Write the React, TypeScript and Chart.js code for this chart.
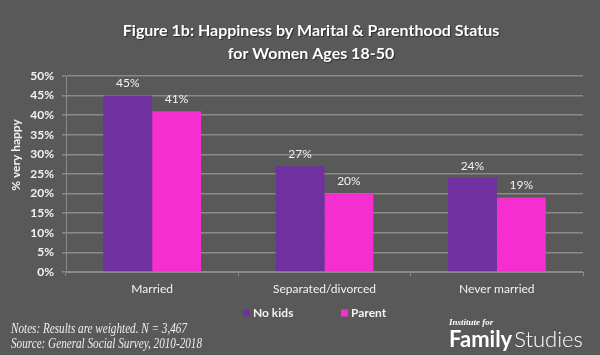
import React, { useEffect, useRef } from "react";
import { Chart, registerables } from "chart.js";

Chart.register(...registerables);

const categories = ["Married", "Separated/divorced", "Never married"];
const noKids = [45, 27, 24];
const parent = [41, 20, 19];
const seriesNames = ["No kids", "Parent"];
const yTicks = [0, 5, 10, 15, 20, 25, 30, 35, 40, 45, 50];
const titleLines = ["Figure 1b: Happiness by Marital & Parenthood Status", "for Women Ages 18-50"];
const yTitle = "% very happy";
const notes = ["Notes: Results are weighted. N = 3,467", "Source: General Social Survey, 2010-2018"];

const BG = "#595959";
const PURPLE = "#7030A0";
const PINK = "#F52ED0";
const GRID = "#8a8a8a";
const TEXT = "#f2f2f2";
const SANS = "Lato, 'Open Sans', sans-serif";

const decorPlugin = {
  id: "decor",
  beforeDraw(chart: any) {
    const { ctx, width, height } = chart;
    ctx.save();
    ctx.fillStyle = BG;
    ctx.fillRect(0, 0, width, height);
    ctx.restore();
  },
  afterDraw(chart: any) {
    const { ctx } = chart;
    ctx.save();
    // title
    ctx.fillStyle = "#ffffff";
    ctx.textAlign = "center";
    ctx.textBaseline = "middle";
    ctx.font = `bold 16px ${SANS}`;
    ctx.shadowColor = "rgba(0,0,0,0.5)";
    ctx.shadowOffsetX = 1;
    ctx.shadowOffsetY = 1;
    ctx.shadowBlur = 1;
    ctx.fillText(titleLines[0], 311, 31);
    ctx.fillText(titleLines[1], 311, 54);
    ctx.shadowColor = "transparent";

    // y title
    ctx.save();
    ctx.translate(16, 155);
    ctx.rotate(-Math.PI / 2);
    ctx.font = `bold 12px ${SANS}`;
    ctx.fillStyle = TEXT;
    ctx.fillText(yTitle, 0, 0);
    ctx.restore();

    // data labels
    ctx.font = `12px ${SANS}`;
    ctx.fillStyle = TEXT;
    chart.data.datasets.forEach((ds: any, di: number) => {
      const meta = chart.getDatasetMeta(di);
      meta.data.forEach((bar: any, i: number) => {
        ctx.fillText(`${ds.data[i]}%`, bar.x, bar.y - 12);
      });
    });

    // legend
    const legendX = [243, 341];
    const legendY = 313;
    ctx.textAlign = "left";
    ctx.font = `bold 12px ${SANS}`;
    chart.data.datasets.forEach((ds: any, di: number) => {
      ctx.fillStyle = ds.backgroundColor;
      ctx.fillRect(legendX[di], legendY - 3.5, 7, 7);
      ctx.fillStyle = TEXT;
      ctx.fillText(ds.label, legendX[di] + 10, legendY);
    });

    // notes
    ctx.font = `italic 14px 'Liberation Serif', serif`;
    ctx.fillStyle = "#eeeeee";
    ctx.fillText(notes[0], 11, 329, 176);
    ctx.fillText(notes[1], 11, 344, 191);

    // logo
    ctx.font = `italic bold 9px 'Liberation Serif', serif`;
    ctx.fillStyle = "#ffffff";
    ctx.fillText("Institute for", 449, 323);
    ctx.textBaseline = "alphabetic";
    ctx.font = `bold 22px ${SANS}`;
    ctx.fillText("Family", 449, 347);
    const fw = ctx.measureText("Family").width;
    ctx.font = `300 22px ${SANS}`;
    ctx.fillText("Studies", 449 + fw + 2, 347);
    ctx.restore();
  },
};

export default function App() {
  const ref = useRef<HTMLCanvasElement>(null);
  useEffect(() => {
    document.body.style.margin = "0";
    const chart = new Chart(ref.current!, {
      type: "bar",
      data: {
        labels: categories,
        datasets: [
          { label: seriesNames[0], data: noKids, backgroundColor: PURPLE },
          { label: seriesNames[1], data: parent, backgroundColor: PINK },
        ],
      },
      options: {
        responsive: false,
        animation: false,
        devicePixelRatio: 1,
        layout: { padding: { top: 76, right: 17, bottom: 55, left: 0 } },
        datasets: { bar: { categoryPercentage: 0.567, barPercentage: 1 } },
        plugins: { legend: { display: false }, title: { display: false }, tooltip: { enabled: false } },
        scales: {
          x: {
            grid: { drawOnChartArea: false, drawTicks: true, tickLength: 4, color: GRID, offset: true },
            border: { color: GRID },
            ticks: { color: TEXT, font: { family: SANS, size: 12 }, padding: 6 },
            afterFit: (s: any) => { s.height = 28; },
          },
          y: {
            min: 0,
            max: 50,
            afterBuildTicks: (s: any) => { s.ticks = yTicks.map((v) => ({ value: v })); },
            grid: { color: GRID, tickLength: 4, lineWidth: 1.5 },
            border: { color: GRID },
            ticks: { color: TEXT, font: { family: SANS, size: 12, weight: "bold" }, padding: 8, callback: (v: any) => `${v}%` },
            afterFit: (s: any) => { s.width = 66; },
          },
        },
      },
      plugins: [decorPlugin],
    });
    return () => chart.destroy();
  }, []);
  return (
    <div style={{ width: 600, height: 355, background: BG }}>
      <canvas ref={ref} width={600} height={355} style={{ display: "block" }} />
    </div>
  );
}
